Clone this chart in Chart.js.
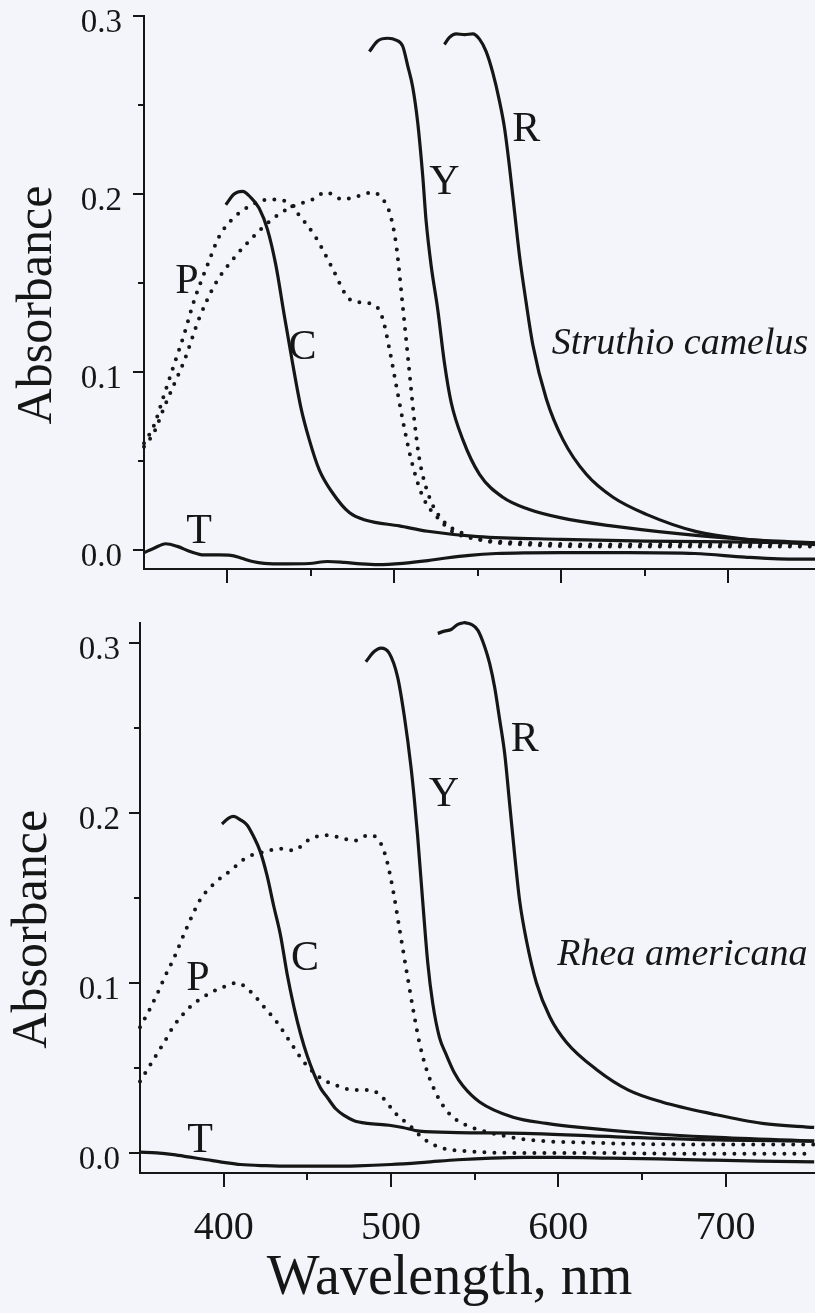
<!DOCTYPE html>
<html>
<head>
<meta charset="utf-8">
<title>Absorbance spectra – Struthio camelus / Rhea americana</title>
<script src="https://cdn.jsdelivr.net/npm/chart.js@4.4.1/dist/chart.umd.min.js"></script>
<style>
  html, body { margin: 0; padding: 0; background: #f4f5fb; }
  #wrap { position: relative; width: 815px; height: 1313px; overflow: hidden; }
  canvas { position: absolute; left: 0; }
  #top { top: 0; }
  #bottom { top: 600px; }
</style>
</head>
<body>
<div id="wrap">
  <canvas id="top" width="815" height="600"></canvas>
  <canvas id="bottom" width="815" height="713"></canvas>
</div>
<script>
// Absorbance spectra of the oil droplets (C, P, Y, R, T), two species stacked.

const FONT = '"Liberation Serif", "Times New Roman", serif';
const INK = '#161616';

// ── Axis ticks (both panels) ─────────────
const WAVELENGTH_TICKS = [400, 450, 500, 550, 600, 650, 700];
const ABSORBANCE_TICKS = [0, 0.05, 0.1, 0.15, 0.2, 0.25, 0.3];

// ── Struthio camelus (top panel) ─────────
const ostrichC_nm  = [399, 404, 409, 414, 419, 424, 429, 434, 439, 444, 449, 455, 463, 473, 483, 503, 520, 550, 600, 650, 700, 752];
const ostrichC_abs = [0.194, 0.200, 0.2015, 0.198, 0.192, 0.180, 0.160, 0.132, 0.105, 0.080, 0.062, 0.045, 0.032, 0.021, 0.0167, 0.0135, 0.0105, 0.0075, 0.006, 0.005, 0.0045, 0.004];

const ostrichP1_nm  = [350, 356, 362, 368, 374, 380, 388, 395, 403, 413, 425, 435, 443, 453, 463, 473, 481, 489, 493, 497, 501, 505, 510, 517, 527, 535, 550, 580, 620, 680, 752];
const ostrichP1_abs = [0.060, 0.070, 0.087, 0.104, 0.121, 0.140, 0.160, 0.176, 0.186, 0.193, 0.197, 0.196, 0.188, 0.1755, 0.158, 0.141, 0.139, 0.137, 0.130, 0.113, 0.093, 0.073, 0.051, 0.030, 0.017, 0.0103, 0.006, 0.004, 0.003, 0.003, 0.003];

const ostrichP2_nm  = [350, 356, 362, 368, 374, 383, 393, 403, 415, 427, 439, 451, 459, 469, 479, 487, 493, 497, 501, 505, 509, 512, 515, 521, 531, 539, 550, 580, 620, 680, 752];
const ostrichP2_abs = [0.058, 0.066, 0.080, 0.093, 0.106, 0.130, 0.150, 0.163, 0.1755, 0.186, 0.193, 0.197, 0.201, 0.197, 0.199, 0.201, 0.197, 0.190, 0.172, 0.137, 0.100, 0.0725, 0.051, 0.0296, 0.0146, 0.0103, 0.006, 0.003, 0.002, 0.002, 0.002];

const ostrichY_nm  = [485, 490, 496, 501, 505, 508, 511, 514, 517, 519, 522, 526, 530, 534, 541, 551, 565, 580, 600, 630, 670, 710, 752];
const ostrichY_abs = [0.280, 0.286, 0.2875, 0.2865, 0.283, 0.272, 0.260, 0.240, 0.210, 0.185, 0.160, 0.135, 0.105, 0.083, 0.062, 0.0425, 0.0296, 0.023, 0.018, 0.0135, 0.0092, 0.006, 0.004];

const ostrichR_nm  = [530, 533, 537, 542, 547, 551, 555, 559, 563, 566, 569, 572, 575, 578, 583, 591, 601, 615, 631, 651, 681, 711, 752];
const ostrichR_abs = [0.284, 0.288, 0.290, 0.2895, 0.290, 0.287, 0.280, 0.268, 0.252, 0.237, 0.215, 0.190, 0.165, 0.145, 0.115, 0.085, 0.062, 0.0425, 0.0296, 0.020, 0.0103, 0.006, 0.003];

const ostrichT_nm  = [350, 356, 363, 370, 378, 386, 395, 402, 408, 415, 422, 435, 449, 460, 470, 480, 490, 505, 520, 531, 545, 561, 580, 600, 640, 680, 710, 730, 752];
const ostrichT_abs = [-0.0015, 0.001, 0.0035, 0.002, -0.001, -0.0028, -0.0028, -0.003, -0.0045, -0.0065, -0.0075, -0.0078, -0.0076, -0.0065, -0.007, -0.0078, -0.0082, -0.0075, -0.006, -0.0045, -0.003, -0.002, -0.0016, -0.0015, -0.0015, -0.002, -0.004, -0.005, -0.0052];

// ── Rhea americana (bottom panel) ────────
const rheaC_nm  = [399, 403, 406, 410, 414, 418, 422, 426, 430, 434, 438, 442, 446, 450, 454, 458, 462, 467, 472, 478, 486, 499, 507, 517, 540, 580, 620, 680, 753];
const rheaC_abs = [0.1935, 0.197, 0.198, 0.196, 0.193, 0.186, 0.177, 0.163, 0.145, 0.128, 0.105, 0.086, 0.070, 0.057, 0.0465, 0.038, 0.0326, 0.026, 0.0221, 0.019, 0.0174, 0.0163, 0.015, 0.0128, 0.012, 0.0115, 0.010, 0.008, 0.007];

const rheaP1_nm  = [350, 355, 360, 365, 370, 378, 386, 396, 404, 414, 424, 434, 442, 450, 460, 468, 478, 487, 493, 497, 501, 505, 509, 513, 517, 521, 527, 535, 545, 555, 580, 620, 680, 753];
const rheaP1_abs = [0.074, 0.083, 0.093, 0.104, 0.114, 0.1326, 0.149, 0.160, 0.166, 0.174, 0.177, 0.179, 0.178, 0.1837, 0.187, 0.186, 0.1837, 0.187, 0.1837, 0.174, 0.156, 0.1326, 0.109, 0.086, 0.065, 0.050, 0.035, 0.023, 0.0163, 0.013, 0.008, 0.006, 0.005, 0.005];

const rheaP2_nm  = [350, 355, 360, 365, 370, 380, 390, 400, 408, 416, 424, 432, 440, 448, 458, 468, 478, 488, 495, 503, 511, 520, 530, 545, 580, 620, 680, 753];
const rheaP2_abs = [0.042, 0.050, 0.058, 0.066, 0.0744, 0.086, 0.093, 0.0977, 0.100, 0.095, 0.086, 0.0767, 0.065, 0.0535, 0.044, 0.0395, 0.037, 0.037, 0.0326, 0.023, 0.0163, 0.008, 0.003, 0.001, 0.0, 0.0, -0.0005, -0.0005];

const rheaY_nm  = [485, 490, 494, 499, 504, 508, 512, 514, 516, 519, 522, 525, 529, 533, 538, 543, 553, 573, 593, 613, 652, 692, 753];
const rheaY_abs = [0.289, 0.295, 0.297, 0.294, 0.280, 0.257, 0.227, 0.208, 0.186, 0.148, 0.112, 0.088, 0.068, 0.058, 0.047, 0.0395, 0.030, 0.021, 0.0174, 0.015, 0.0116, 0.0093, 0.007];

const rheaR_nm  = [528, 532, 536, 540, 544, 548, 552, 556, 559, 562, 565, 568, 571, 574, 577, 581, 587, 595, 605, 623, 642, 662, 692, 722, 753];
const rheaR_abs = [0.3057, 0.307, 0.308, 0.311, 0.312, 0.311, 0.3075, 0.298, 0.288, 0.274, 0.255, 0.235, 0.205, 0.175, 0.148, 0.125, 0.100, 0.080, 0.065, 0.049, 0.037, 0.030, 0.023, 0.0174, 0.015];

const rheaT_nm  = [350, 360, 370, 380, 390, 400, 410, 425, 440, 460, 480, 500, 520, 540, 560, 580, 600, 630, 660, 690, 720, 753];
const rheaT_abs = [0.0005, 0.0, -0.001, -0.0025, -0.004, -0.0055, -0.0068, -0.0075, -0.0078, -0.0078, -0.0076, -0.0068, -0.0055, -0.004, -0.003, -0.0026, -0.0026, -0.003, -0.0035, -0.0042, -0.0048, -0.0052];

const pts = (xs, ys) => xs.map((x, i) => ({ x, y: ys[i] }));
const isMajor = (v, step) => Math.abs(v / step - Math.round(v / step)) < 1e-6;

function solid(data) {
    return { data, borderColor: INK, borderWidth: 3.2, pointRadius: 0, fill: false,
             cubicInterpolationMode: 'monotone', clip: 4 };
}
function dotted(data) {
    return { data, borderColor: INK, borderWidth: 4, borderDash: [0, 10], borderCapStyle: 'round',
             pointRadius: 0, fill: false, cubicInterpolationMode: 'monotone', clip: 4 };
}

// tick marks: long on the major values, short on the minor ones
const tickMarks = {
    id: 'tickMarks',
    afterDraw(chart) {
        const { ctx } = chart;
        const xs = chart.scales.x, ys = chart.scales.y;
        ctx.save();
        ctx.strokeStyle = INK;
        ctx.lineWidth = 2;
        ctx.beginPath();
        for (const v of WAVELENGTH_TICKS) {
            const px = Math.round(xs.getPixelForValue(v));
            const len = isMajor(v, 100) ? 14 : 7;
            ctx.moveTo(px, xs.top);
            ctx.lineTo(px, xs.top + len);
        }
        for (const v of ABSORBANCE_TICKS) {
            const py = Math.round(ys.getPixelForValue(v));
            const len = isMajor(v, 0.1) ? 11 : 6;
            ctx.moveTo(ys.right, py);
            ctx.lineTo(ys.right - len, py);
        }
        ctx.stroke();
        ctx.restore();
    },
};

// curve letters and species name, placed in data units
const curveLabels = {
    id: 'curveLabels',
    afterDatasetsDraw(chart, args, opts) {
        const { ctx, scales: { x, y } } = chart;
        ctx.save();
        ctx.fillStyle = INK;
        ctx.textBaseline = 'middle';
        for (const item of opts.items || []) {
            ctx.font = item.italic ? `italic 38px ${FONT}` : `42px ${FONT}`;
            ctx.textAlign = item.align || 'center';
            ctx.fillText(item.text, x.getPixelForValue(item.nm), y.getPixelForValue(item.abs));
        }
        ctx.restore();
    },
};

function makePanel(id, p) {
    const canvas = document.getElementById(id);
    const H = canvas.height;
    return new Chart(canvas, {
        type: 'line',
        data: { datasets: p.datasets },
        plugins: [tickMarks, curveLabels],
        options: {
            responsive: false,
            animation: false,
            devicePixelRatio: 1,
            layout: { padding: { top: p.top, right: 0, bottom: 0, left: 0 } },
            plugins: {
                legend: { display: false },
                tooltip: { enabled: false },
                curveLabels: { items: p.labels },
            },
            scales: {
                x: {
                    type: 'linear',
                    min: 350,
                    max: p.xMax,
                    afterBuildTicks: (s) => { s.ticks = WAVELENGTH_TICKS.map((value) => ({ value })); },
                    afterFit: (s) => { s.height = H - p.bottom; s.paddingLeft = 0; s.paddingRight = 0; },
                    grid: { display: false, drawTicks: false },
                    border: { display: true, color: INK, width: 2 },
                    ticks: {
                        display: p.xLabels,
                        autoSkip: false,
                        maxRotation: 0,
                        padding: 31,
                        color: INK,
                        font: { family: FONT, size: 40 },
                        callback: (v) => (isMajor(v, 100) ? String(v) : ''),
                    },
                    title: {
                        display: !!p.xTitle,
                        text: p.xTitle || '',
                        color: INK,
                        font: { family: FONT, size: 56, lineHeight: 1.2 },
                        padding: { top: 0, bottom: 0 },
                    },
                },
                y: {
                    min: p.yMin,
                    max: p.yMax,
                    afterBuildTicks: (s) => { s.ticks = ABSORBANCE_TICKS.map((value) => ({ value })); },
                    afterFit: (s) => { s.width = p.left; s.paddingTop = 0; s.paddingBottom = 0; },
                    grid: { display: false, drawTicks: false },
                    border: { display: true, color: INK, width: 2 },
                    ticks: {
                        autoSkip: false,
                        padding: p.left - p.labelRight,
                        labelOffset: 7,
                        color: INK,
                        font: { family: FONT, size: 33 },
                        callback: (v) => (isMajor(v, 0.1) ? v.toFixed(1) : ''),
                    },
                    title: {
                        display: true,
                        text: p.yTitle,
                        color: INK,
                        font: { family: FONT, size: 50, lineHeight: 1.2 },
                        padding: { top: p.yTitleX - 30, bottom: 0 },
                    },
                },
            },
        },
    });
}

makePanel('top', {
    left: 144, top: 16, bottom: 569, labelRight: 122, yTitleX: 38,
    xMax: 752, yMin: -0.0107, yMax: 0.3,
    xLabels: false,
    yTitle: 'Absorbance  ',
    datasets: [
        solid(pts(ostrichC_nm, ostrichC_abs)),
        dotted(pts(ostrichP1_nm, ostrichP1_abs)),
        dotted(pts(ostrichP2_nm, ostrichP2_abs)),
        solid(pts(ostrichY_nm, ostrichY_abs)),
        solid(pts(ostrichR_nm, ostrichR_abs)),
        solid(pts(ostrichT_nm, ostrichT_abs)),
    ],
    labels: [
        { text: 'P', nm: 375.7, abs: 0.1506 },
        { text: 'C', nm: 445, abs: 0.1135 },
        { text: 'T', nm: 383, abs: 0.0101 },
        { text: 'Y', nm: 530, abs: 0.206 },
        { text: 'R', nm: 579, abs: 0.236 },
        { text: 'Struthio camelus', nm: 748, abs: 0.1157, italic: true, align: 'right' },
    ],
});

makePanel('bottom', {
    left: 140, top: 23, bottom: 573, labelRight: 120, yTitleX: 33,
    xMax: 753.5, yMin: -0.0118, yMax: 0.3118,
    xLabels: true,
    xTitle: 'Wavelength, nm    ',
    yTitle: 'Absorbance     ',
    datasets: [
        solid(pts(rheaC_nm, rheaC_abs)),
        dotted(pts(rheaP1_nm, rheaP1_abs)),
        dotted(pts(rheaP2_nm, rheaP2_abs)),
        solid(pts(rheaY_nm, rheaY_abs)),
        solid(pts(rheaR_nm, rheaR_abs)),
        solid(pts(rheaT_nm, rheaT_abs)),
    ],
    labels: [
        { text: 'P', nm: 384.7, abs: 0.1024 },
        { text: 'C', nm: 448.6, abs: 0.114 },
        { text: 'T', nm: 385.9, abs: 0.0071 },
        { text: 'Y', nm: 531.7, abs: 0.2106 },
        { text: 'R', nm: 580, abs: 0.243 },
        { text: 'Rhea americana', nm: 749, abs: 0.1165, italic: true, align: 'right' },
    ],
});
</script>
</body>
</html>
